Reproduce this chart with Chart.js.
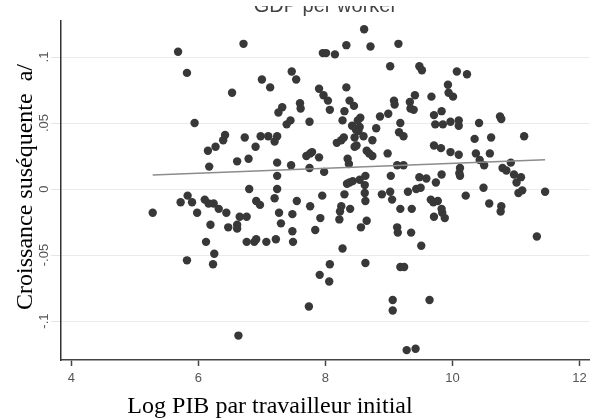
<!DOCTYPE html>
<html>
<head>
<meta charset="utf-8">
<script src="https://cdn.jsdelivr.net/npm/chart.js@4/dist/chart.umd.min.js"></script>
<style>
  html, body { margin: 0; padding: 0; background: #fff; }
  #wrap { position: relative; width: 594px; height: 418px; }
</style>
</head>
<body>
<div id="wrap"><canvas id="chart"></canvas></div>
<script>
// ===== données =====
const xVals = [
  5.28, 5.68, 5.82, 5.94, 5.72, 5.83, 5.90, 5.82, 5.98, 6.10,
  6.16, 6.24, 6.32, 6.44, 6.19, 6.47, 6.61, 6.61, 6.65, 6.76,
  6.12, 6.25, 6.23, 6.76, 6.88, 6.91, 7.07, 7.22, 6.63, 7.27,
  7.30, 7.48, 7.48, 7.49, 6.91, 6.97, 7.20, 7.55, 6.80, 7.24,
  7.24, 6.61, 6.79, 7.24, 7.46, 6.15, 6.17, 6.27, 6.42, 6.39,
  6.73, 6.98, 6.90, 7.10, 7.24, 7.20, 6.71, 6.53, 7.00, 7.13,
  7.47, 7.54, 7.32, 7.26, 7.45, 7.39, 7.60, 7.61, 7.75, 7.70,
  7.79, 7.76, 7.90, 7.75, 7.98, 7.96, 7.90, 7.97, 8.04, 8.07,
  7.76, 7.84, 7.92, 7.95, 7.91, 7.74, 8.06, 8.07,
  8.61, 8.33, 8.71, 9.15, 8.01, 8.15, 9.02, 9.48, 9.52, 8.33,
  8.38, 8.45, 8.30, 9.08, 9.09, 9.33, 9.34, 9.39, 9.41, 8.99,
  8.86, 8.55, 8.51, 8.27, 8.42, 8.54, 8.52, 8.48, 9.18, 8.80,
  8.60, 8.74, 8.46, 9.16, 9.23, 8.18, 8.25, 8.29, 8.46, 8.49,
  8.65, 8.69, 8.74, 8.98, 8.35, 8.37, 9.13, 9.23, 8.63, 8.54,
  8.43, 8.38, 8.34, 8.62, 8.62, 8.63, 9.03, 9.48, 9.59, 8.30,
  8.89, 9.02, 9.05, 9.30, 9.43, 9.50, 8.25, 8.39, 9.18, 9.36,
  8.23, 8.22, 8.65, 8.56, 9.13, 9.14, 9.35, 9.51, 8.27, 8.63,
  9.18, 9.24, 9.06, 9.06, 9.28, 9.42, 9.64,
  9.93, 9.94, 10.01, 9.67, 10.07, 10.23, 9.71, 9.83, 9.73, 9.85,
  9.97, 10.10, 10.10, 10.42, 10.75, 10.77, 10.35, 10.61, 11.13, 9.71,
  9.82, 9.97, 10.10, 10.37, 10.59, 10.43, 10.50, 10.12, 10.11, 10.12,
  10.79, 10.85, 10.92, 10.97, 11.08, 11.01, 9.83, 9.74, 9.66, 9.77,
  9.70, 10.21, 10.49, 10.58, 10.77, 10.76, 11.04, 11.10, 11.46, 9.83,
  9.71, 9.84, 9.88, 11.33
];
const yVals = [
  -0.018, 0.104, 0.088, 0.050, -0.010, -0.005, -0.010, -0.054, -0.018, -0.008,
  -0.011, -0.011, -0.015, -0.018, -0.027, -0.029, -0.027, -0.030, -0.021, -0.021,
  -0.040, -0.049, -0.057, -0.040, -0.040, -0.038, -0.040, -0.038, -0.111, -0.018,
  -0.026, -0.019, -0.032, -0.040, -0.009, -0.012, -0.007, -0.009, 0.000, 0.000,
  0.010, 0.021, 0.023, 0.020, 0.018, 0.029, 0.017, 0.032, 0.041, 0.037,
  0.039, 0.040, 0.032, 0.040, 0.040, 0.036, 0.110, 0.073, 0.083, 0.077,
  0.089, 0.083, 0.062, 0.058, 0.052, 0.049, 0.065, 0.061, 0.051, 0.025,
  0.028, 0.027, 0.024, 0.016, 0.013, 0.103, 0.076, 0.071, 0.067, 0.060,
  -0.013, -0.031, -0.022, -0.005, -0.065, -0.089, -0.070, -0.057,
  0.121, 0.109, 0.108, 0.110, 0.103, 0.102, 0.093, 0.093, 0.090, 0.077,
  0.067, 0.063, 0.059, 0.067, 0.064, 0.066, 0.061, 0.060, 0.071, 0.057,
  0.055, 0.054, 0.052, 0.052, 0.048, 0.047, 0.044, 0.045, 0.050, 0.046,
  0.040, 0.037, 0.039, 0.043, 0.040, 0.035, 0.037, 0.039, 0.032, 0.033,
  0.029, 0.027, 0.025, 0.027, 0.023, 0.019, 0.018, 0.018, 0.010, 0.007,
  0.006, 0.005, 0.004, 0.003, -0.003, -0.009, 0.010, 0.009, 0.008, -0.004,
  -0.004, -0.002, -0.008, -0.002, 0.000, 0.001, -0.013, -0.015, -0.015, -0.015,
  -0.017, -0.023, -0.024, -0.029, -0.029, -0.033, -0.033, -0.043, -0.045, -0.056,
  -0.059, -0.059, -0.084, -0.092, -0.122, -0.121, -0.084,
  0.079, 0.073, 0.070, 0.070, 0.089, 0.087, 0.056, 0.059, 0.049, 0.049,
  0.051, 0.052, 0.048, 0.050, 0.055, 0.053, 0.038, 0.039, 0.040, 0.033,
  0.031, 0.028, 0.026, 0.027, 0.027, 0.022, 0.018, 0.016, 0.012, 0.010,
  0.016, 0.014, 0.020, 0.011, 0.009, 0.005, 0.011, 0.005, -0.008, -0.009,
  -0.010, -0.005, 0.001, -0.011, -0.013, -0.017, -0.003, -0.001, -0.002, -0.015,
  -0.021, -0.018, -0.022, -0.036
];

// droite d'ajustement (extrémités)
const fitX = [5.28, 11.46];
const fitY = [0.0106, 0.0222];

const xTicks = [4, 6, 8, 10, 12];
const yTicks = [-0.1, -0.05, 0, 0.05, 0.1];
const yTickLabels = ['-.1', '-.05', '0', '.05', '.1'];

const titleText = 'GDP per worker';
const xTitle = 'Log PIB par travailleur initial';
const yTitle = 'Croissance suséquente  a/';

// titres dessinés à la main (le titre du haut est coupé dans l'original)
const textPlugin = {
  id: 'texts',
  afterDraw(chart) {
    const { ctx, chartArea } = chart;
    ctx.save();
    ctx.beginPath();
    ctx.rect(0, 6, chart.width, 30);
    ctx.clip();
    ctx.fillStyle = '#444';
    ctx.font = '20px "Liberation Sans", Arial, sans-serif';
    ctx.textAlign = 'center';
    ctx.textBaseline = 'alphabetic';
    ctx.fillText(titleText, (chartArea.left + chartArea.right) / 2, 12);
    ctx.restore();

    ctx.save();
    ctx.fillStyle = '#000';
    ctx.font = '24px "Liberation Serif", "Times New Roman", serif';
    ctx.textAlign = 'center';
    ctx.textBaseline = 'alphabetic';
    ctx.fillText(xTitle, 270, 413);
    ctx.translate(32, 187);
    ctx.rotate(-Math.PI / 2);
    ctx.fillText(yTitle, 0, 0);
    ctx.restore();
  }
};

new Chart(document.getElementById('chart'), {
  type: 'scatter',
  data: {
    datasets: [
      {
        type: 'line',
        data: fitX.map((x, i) => ({ x, y: fitY[i] })),
        borderColor: '#8c8c8c',
        borderWidth: 1.5,
        pointRadius: 0,
        fill: false,
        order: 0,
      },
      {
        data: xVals.map((x, i) => ({ x, y: yVals[i] })),
        backgroundColor: '#383838',
        borderColor: '#383838',
        borderWidth: 0,
        pointRadius: 4.2,
        order: 1,
      },
    ],
  },
  options: {
    responsive: true,
    maintainAspectRatio: false,
    animation: false,
    devicePixelRatio: 1,
    layout: { padding: { top: 21, left: 0, right: 0, bottom: 0 } },
    plugins: {
      legend: { display: false },
      tooltip: { enabled: false },
    },
    scales: {
      x: {
        type: 'linear',
        min: 3.836,
        max: 12.164,
        afterBuildTicks: s => { s.ticks = xTicks.map(v => ({ value: v })); },
        afterFit: s => { s.height = 58; },
        ticks: {
          color: '#555',
          font: { family: '"Liberation Sans", Arial, sans-serif', size: 13 },
          padding: 5,
          maxRotation: 0,
        },
        grid: { drawOnChartArea: false, drawTicks: true, tickLength: 6, tickColor: '#444', tickWidth: 1.5 },
        border: { display: true, color: '#444', width: 1.5 },
      },
      y: {
        type: 'linear',
        min: -0.1295,
        max: 0.1273,
        afterBuildTicks: s => { s.ticks = yTicks.map(v => ({ value: v })); },
        afterFit: s => { s.width = 61; },
        ticks: {
          color: '#555',
          font: { family: '"Liberation Sans", Arial, sans-serif', size: 13 },
          padding: -5,
          minRotation: 90,
          maxRotation: 90,
          crossAlign: 'center',
          callback: (v, i) => yTickLabels[i],
        },
        grid: { color: '#ebebeb', lineWidth: 1, tickLength: 10, tickColor: '#e4e4e4' },
        border: { display: true, color: '#333', width: 1.5 },
      },
    },
  },
  plugins: [textPlugin],
});
</script>
</body>
</html>
